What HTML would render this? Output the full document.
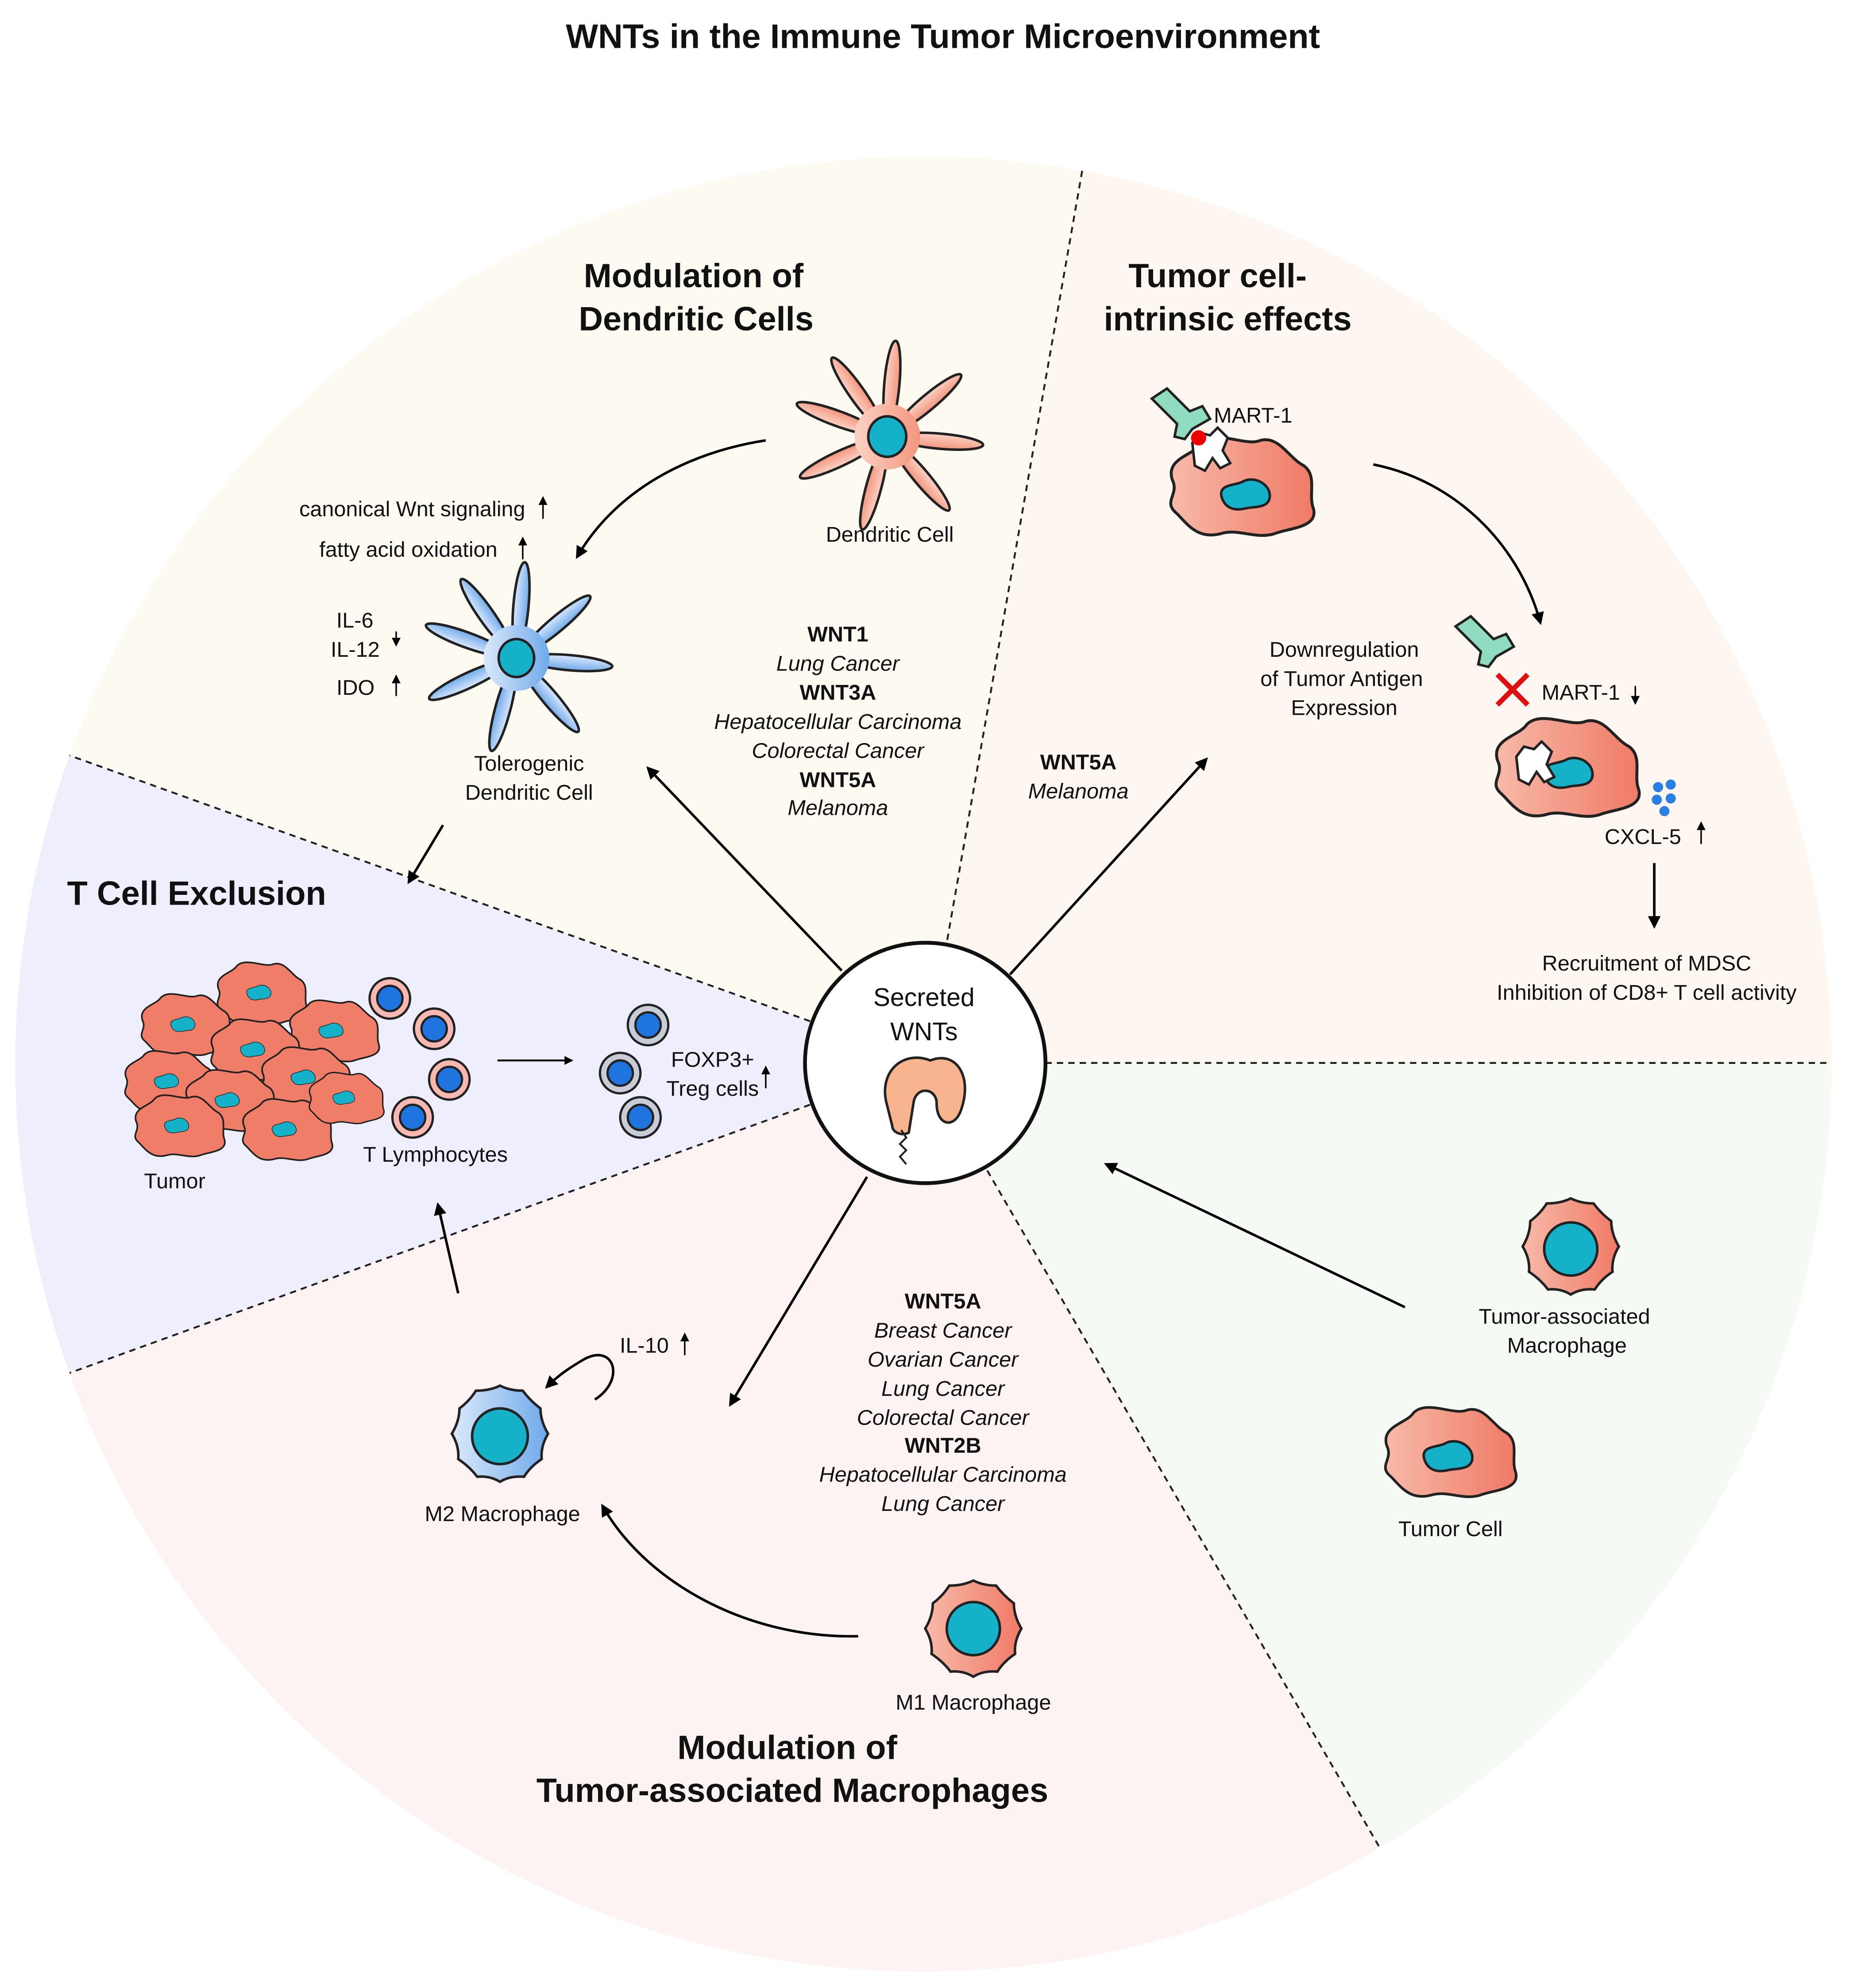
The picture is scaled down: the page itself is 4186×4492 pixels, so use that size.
<!DOCTYPE html>
<html><head><meta charset="utf-8"><style>
html,body{margin:0;padding:0;background:#fff}
svg{display:block}
text{font-family:"Liberation Sans",Arial,sans-serif;fill:#111}
.t{font-size:17px}
.h{font-size:26.5px;font-weight:bold}
.b{font-weight:bold}
.i{font-style:italic}
</style></head><body>
<svg width="4186" height="4492" viewBox="0 0 1464 1571" xmlns="http://www.w3.org/2000/svg">
<defs>
<marker id="ar" markerWidth="10" markerHeight="10" refX="8" refY="5" orient="auto" markerUnits="userSpaceOnUse" viewBox="0 0 10 10">
<path d="M0,0 L10,5 L0,10 z" fill="#000"/></marker>
<marker id="ars" markerWidth="7" markerHeight="7" refX="6" refY="3.5" orient="auto" markerUnits="userSpaceOnUse" viewBox="0 0 7 7">
<path d="M0,0 L7,3.5 L0,7 z" fill="#000"/></marker>
<linearGradient id="sal" x1="0" x2="1"><stop offset="0" stop-color="#fbd3c6"/><stop offset="1" stop-color="#f3957c"/></linearGradient>
<linearGradient id="blu" x1="0" x2="1"><stop offset="0" stop-color="#dbe9fb"/><stop offset="1" stop-color="#6fa9ea"/></linearGradient>
<linearGradient id="tum" x1="0" x2="1"><stop offset="0" stop-color="#f8b9a8"/><stop offset="1" stop-color="#ef7a66"/></linearGradient>
<path id="blob" d="M-45,-5 C-50,-20 -30,-22 -25,-30 C-15,-40 5,-28 15,-32 C28,-36 35,-20 45,-15 C55,-8 48,5 52,15 C55,28 35,28 25,32 C12,36 0,28 -12,32 C-28,36 -35,25 -42,18 C-52,10 -40,5 -45,-5 Z"/>
<path id="nuc" d="M-20,0 C-22,-10 -8,-8 -2,-12 C8,-16 20,-8 18,2 C16,10 5,8 -2,10 C-12,12 -18,8 -20,0 Z"/>
<path id="mac" d="M0,-38 Q8,-34 18,-34 Q24,-26 32,-20 Q32,-10 38,0 Q32,10 33,20 Q24,26 19,34 Q8,33 0,38 Q-8,33 -18,34 Q-24,26 -33,20 Q-32,10 -38,0 Q-32,-10 -32,-20 Q-24,-26 -19,-34 Q-8,-34 0,-38 Z"/>
</defs>

<rect width="1464" height="1571" fill="#fff"/>
<text x="745" y="38" text-anchor="middle" class="b" style="font-size:27px">WNTs in the Immune Tumor Microenvironment</text>

<g>
<path d="M731,840 L55,597 A716,716 0 0 1 855,135 Z" fill="#fdfbf1"/>
<path d="M731,840 L855,135 A716,716 0 0 1 1447,840 Z" fill="#fdf6f1"/>
<path d="M731,840 L1447,840 A716,716 0 0 1 1090,1460 Z" fill="#f5faf4"/>
<path d="M731,840 L1090,1460 A716,716 0 0 1 55,1085 Z" fill="#fdf3f2"/>
<path d="M731,840 L55,1085 A716,716 0 0 1 55,597 Z" fill="#eeeefc"/>
</g>
<g stroke="#222" stroke-width="1.5" stroke-dasharray="5,4" fill="none">
<line x1="855" y1="135" x2="748" y2="745"/>
<line x1="826" y1="840" x2="1447" y2="840"/>
<line x1="780" y1="925" x2="1090" y2="1460"/>
<line x1="640" y1="873" x2="55" y2="1085"/>
<line x1="640" y1="807" x2="55" y2="597"/>
</g>

<text x="548" y="227" text-anchor="middle" class="h">Modulation of</text>
<text x="550" y="261" text-anchor="middle" class="h">Dendritic Cells</text>
<text x="962" y="227" text-anchor="middle" class="h">Tumor cell-</text>
<text x="970" y="261" text-anchor="middle" class="h">intrinsic effects</text>
<text x="53" y="715" class="h">T Cell Exclusion</text>
<text x="622" y="1390" text-anchor="middle" class="h">Modulation of</text>
<text x="626" y="1424" text-anchor="middle" class="h">Tumor-associated Macrophages</text>

<circle cx="731" cy="840" r="95" fill="#fff" stroke="#111" stroke-width="3"/>
<text x="730" y="795" text-anchor="middle" style="font-size:20px">Secreted</text>
<text x="730" y="822" text-anchor="middle" style="font-size:20px">WNTs</text>
<path d="M700,870 C695,845 715,830 735,838 C755,830 768,850 760,875 C755,893 740,890 740,872 C740,860 725,858 722,870 L718,895 C713,898 705,895 705,890 Z" fill="#f7b48e" stroke="#222" stroke-width="2"/>
<path d="M712,893 l4,6 -5,5 5,5 -5,5 5,6" fill="none" stroke="#222" stroke-width="1.5"/>

<g stroke="#222" stroke-width="2" fill="url(#sal)">
<g transform="translate(701,345)">
<ellipse cx="0" cy="-42" rx="6" ry="34" transform="rotate(5)"/>
<ellipse cx="0" cy="-42" rx="6" ry="34" transform="rotate(-35)"/>
<ellipse cx="0" cy="-42" rx="6" ry="34" transform="rotate(50)"/>
<ellipse cx="0" cy="-42" rx="6" ry="34" transform="rotate(95)"/>
<ellipse cx="0" cy="-42" rx="6" ry="34" transform="rotate(140)"/>
<ellipse cx="0" cy="-42" rx="6" ry="34" transform="rotate(195)"/>
<ellipse cx="0" cy="-42" rx="6" ry="34" transform="rotate(245)"/>
<ellipse cx="0" cy="-42" rx="6" ry="34" transform="rotate(290)"/>
<circle r="26" stroke="none"/>
<ellipse rx="15" ry="16" fill="#14b1c9"/>
</g>
<g transform="translate(408,520)" fill="url(#blu)">
<ellipse cx="0" cy="-42" rx="6" ry="34" transform="rotate(5)"/>
<ellipse cx="0" cy="-42" rx="6" ry="34" transform="rotate(-35)"/>
<ellipse cx="0" cy="-42" rx="6" ry="34" transform="rotate(50)"/>
<ellipse cx="0" cy="-42" rx="6" ry="34" transform="rotate(95)"/>
<ellipse cx="0" cy="-42" rx="6" ry="34" transform="rotate(140)"/>
<ellipse cx="0" cy="-42" rx="6" ry="34" transform="rotate(195)"/>
<ellipse cx="0" cy="-42" rx="6" ry="34" transform="rotate(245)"/>
<ellipse cx="0" cy="-42" rx="6" ry="34" transform="rotate(290)"/>
<circle r="26" stroke="none"/>
<ellipse rx="14" ry="15" fill="#14b1c9"/>
</g>
</g>
<text x="703" y="428" text-anchor="middle" class="t">Dendritic Cell</text>
<text x="418" y="609" text-anchor="middle" class="t">Tolerogenic</text>
<text x="418" y="632" text-anchor="middle" class="t">Dendritic Cell</text>
<text x="415" y="408" text-anchor="end" class="t">canonical Wnt signaling</text>
<text x="393" y="440" text-anchor="end" class="t">fatty acid oxidation</text>
<text x="295" y="496" text-anchor="end" class="t">IL-6</text>
<text x="300" y="519" text-anchor="end" class="t">IL-12</text>
<text x="296" y="549" text-anchor="end" class="t">IDO</text>
<g stroke="#000" stroke-width="1.2" marker-end="url(#ars)">
<line x1="429" y1="410" x2="429" y2="393"/>
<line x1="413" y1="442" x2="413" y2="425"/>
<line x1="313" y1="499" x2="313" y2="510"/>
<line x1="313" y1="550" x2="313" y2="534"/>
<line x1="1292" y1="542" x2="1292" y2="556"/>
<line x1="1344" y1="667" x2="1344" y2="650"/>
<line x1="605" y1="860" x2="605" y2="843"/>
<line x1="541" y1="1071" x2="541" y2="1054"/>
</g>

<text x="662" y="507" text-anchor="middle" class="t b">WNT1</text>
<text x="662" y="530" text-anchor="middle" class="t i">Lung Cancer</text>
<text x="662" y="553" text-anchor="middle" class="t b">WNT3A</text>
<text x="662" y="576" text-anchor="middle" class="t i">Hepatocellular Carcinoma</text>
<text x="662" y="599" text-anchor="middle" class="t i">Colorectal Cancer</text>
<text x="662" y="622" text-anchor="middle" class="t b">WNT5A</text>
<text x="662" y="644" text-anchor="middle" class="t i">Melanoma</text>

<text x="852" y="608" text-anchor="middle" class="t b">WNT5A</text>
<text x="852" y="631" text-anchor="middle" class="t i">Melanoma</text>

<text x="745" y="1034" text-anchor="middle" class="t b">WNT5A</text>
<text x="745" y="1057" text-anchor="middle" class="t i">Breast Cancer</text>
<text x="745" y="1080" text-anchor="middle" class="t i">Ovarian Cancer</text>
<text x="745" y="1103" text-anchor="middle" class="t i">Lung Cancer</text>
<text x="745" y="1126" text-anchor="middle" class="t i">Colorectal Cancer</text>
<text x="745" y="1148" text-anchor="middle" class="t b">WNT2B</text>
<text x="745" y="1171" text-anchor="middle" class="t i">Hepatocellular Carcinoma</text>
<text x="745" y="1194" text-anchor="middle" class="t i">Lung Cancer</text>

<g stroke="#000" stroke-width="2" fill="none" marker-end="url(#ar)">
<line x1="665" y1="767" x2="512" y2="607"/>
<line x1="798" y1="770" x2="953" y2="600"/>
<line x1="685" y1="930" x2="577" y2="1110"/>
<line x1="1110" y1="1033" x2="874" y2="920"/>
<path d="M605,348 C540,358 485,390 456,440"/>
<path d="M1085,367 C1150,380 1200,430 1217,492"/>
<path d="M678,1293 C590,1295 510,1250 476,1190"/>
<line x1="350" y1="652" x2="323" y2="697"/>
<line x1="362" y1="1022" x2="346" y2="952"/>
<line x1="1307" y1="682" x2="1307" y2="732"/>
<path d="M470,1106 C495,1090 485,1060 460,1075 C448,1082 440,1088 432,1096"/>
</g>
<line x1="393" y1="838" x2="452" y2="838" stroke="#000" stroke-width="1.5" marker-end="url(#ars)"/>

<g stroke="#222" stroke-width="2">
<use href="#blob" transform="translate(978,385) scale(1.15)" fill="url(#tum)"/>
<use href="#nuc" transform="translate(985,392)" fill="#14b1c9"/>
<use href="#blob" transform="translate(1235,607) scale(1.15)" fill="url(#tum)"/>
<use href="#nuc" transform="translate(1240,612)" fill="#14b1c9"/>
<path d="M942,350 l6,-8 8,2 6,-6 8,8 -4,10 6,10 -8,4 -6,-8 -6,10 -8,-4 z" fill="#fff"/>
<path d="M1198,598 l6,-8 8,2 6,-6 8,8 -4,10 6,10 -8,4 -6,-8 -6,10 -8,-4 z" fill="#fff"/>
<path d="M910,315 l12,-8 18,18 10,-4 6,10 -14,8 -6,8 -8,-2 2,-10 z" fill="#8fdcc0"/>
<path d="M1150,495 l12,-8 18,18 10,-4 6,10 -14,8 -6,8 -8,-2 2,-10 z" fill="#8fdcc0"/>
</g>
<circle cx="947" cy="346" r="6" fill="#e00"/>
<path d="M1183,533 l24,24 M1207,533 l-24,24" stroke="#e01010" stroke-width="4"/>
<g fill="#2a7fe0"><circle cx="1310" cy="622" r="4"/><circle cx="1320" cy="620" r="4"/><circle cx="1309" cy="632" r="4"/><circle cx="1320" cy="631" r="4"/><circle cx="1315" cy="641" r="4"/></g>
<text x="959" y="334" class="t">MART-1</text>
<text x="1218" y="553" class="t">MART-1</text>
<text x="1062" y="519" text-anchor="middle" class="t">Downregulation</text>
<text x="1060" y="542" text-anchor="middle" class="t">of Tumor Antigen</text>
<text x="1062" y="565" text-anchor="middle" class="t">Expression</text>
<text x="1298" y="667" text-anchor="middle" class="t">CXCL-5</text>
<text x="1301" y="767" text-anchor="middle" class="t">Recruitment of MDSC</text>
<text x="1301" y="790" text-anchor="middle" class="t">Inhibition of CD8+ T cell activity</text>

<g stroke="#222" stroke-width="1.8" fill="#f07d68">
<use href="#blob" transform="translate(205,785) scale(0.72)"/>
<use href="#blob" transform="translate(145,810) scale(0.72)"/>
<use href="#blob" transform="translate(262,815) scale(0.72)"/>
<use href="#blob" transform="translate(200,830) scale(0.72)"/>
<use href="#blob" transform="translate(132,855) scale(0.72)"/>
<use href="#blob" transform="translate(240,852) scale(0.72)"/>
<use href="#blob" transform="translate(180,870) scale(0.72)"/>
<use href="#blob" transform="translate(140,890) scale(0.72)"/>
<use href="#blob" transform="translate(225,893) scale(0.72)"/>
<use href="#blob" transform="translate(272,868) scale(0.6)"/>
</g>
<g fill="#14b1c9" stroke="#222" stroke-width="1">
<use href="#nuc" transform="translate(205,785) scale(0.5)"/><use href="#nuc" transform="translate(145,810) scale(0.5)"/>
<use href="#nuc" transform="translate(262,815) scale(0.5)"/><use href="#nuc" transform="translate(200,830) scale(0.5)"/>
<use href="#nuc" transform="translate(132,855) scale(0.5)"/><use href="#nuc" transform="translate(240,852) scale(0.5)"/>
<use href="#nuc" transform="translate(180,870) scale(0.5)"/><use href="#nuc" transform="translate(140,890) scale(0.5)"/>
<use href="#nuc" transform="translate(225,893) scale(0.5)"/><use href="#nuc" transform="translate(272,868) scale(0.45)"/>
</g>
<g stroke="#222" stroke-width="1.8">
<circle cx="308" cy="789" r="16" fill="#f6b8b0"/><circle cx="308" cy="789" r="10" fill="#1f74e0"/>
<circle cx="343" cy="813" r="16" fill="#f6b8b0"/><circle cx="343" cy="813" r="10" fill="#1f74e0"/>
<circle cx="355" cy="853" r="16" fill="#f6b8b0"/><circle cx="355" cy="853" r="10" fill="#1f74e0"/>
<circle cx="326" cy="883" r="16" fill="#f6b8b0"/><circle cx="326" cy="883" r="10" fill="#1f74e0"/>
<circle cx="512" cy="810" r="16" fill="#c8ccd6"/><circle cx="512" cy="810" r="10" fill="#1f74e0"/>
<circle cx="490" cy="848" r="16" fill="#c8ccd6"/><circle cx="490" cy="848" r="10" fill="#1f74e0"/>
<circle cx="506" cy="883" r="16" fill="#c8ccd6"/><circle cx="506" cy="883" r="10" fill="#1f74e0"/>
</g>
<text x="138" y="939" text-anchor="middle" class="t">Tumor</text>
<text x="344" y="918" text-anchor="middle" class="t">T Lymphocytes</text>
<text x="563" y="843" text-anchor="middle" class="t">FOXP3+</text>
<text x="563" y="866" text-anchor="middle" class="t">Treg cells</text>

<g stroke="#222" stroke-width="2">
<use href="#mac" transform="translate(395,1133)" fill="url(#blu)"/>
<circle cx="395" cy="1135" r="22" fill="#14b1c9"/>
<use href="#mac" transform="translate(769,1287)" fill="url(#tum)"/>
<circle cx="769" cy="1287" r="21" fill="#14b1c9"/>
<use href="#mac" transform="translate(1241,985)" fill="url(#tum)"/>
<circle cx="1241" cy="987" r="21" fill="#14b1c9"/>
<use href="#blob" transform="translate(1143,1148) scale(1.05)" fill="url(#tum)"/>
<use href="#nuc" transform="translate(1145,1152)" fill="#14b1c9"/>
</g>
<text x="509" y="1069" text-anchor="middle" class="t">IL-10</text>
<text x="397" y="1202" text-anchor="middle" class="t">M2 Macrophage</text>
<text x="769" y="1351" text-anchor="middle" class="t">M1 Macrophage</text>
<text x="1236" y="1046" text-anchor="middle" class="t">Tumor-associated</text>
<text x="1238" y="1069" text-anchor="middle" class="t">Macrophage</text>
<text x="1146" y="1214" text-anchor="middle" class="t">Tumor Cell</text>
</svg>
</body></html>
